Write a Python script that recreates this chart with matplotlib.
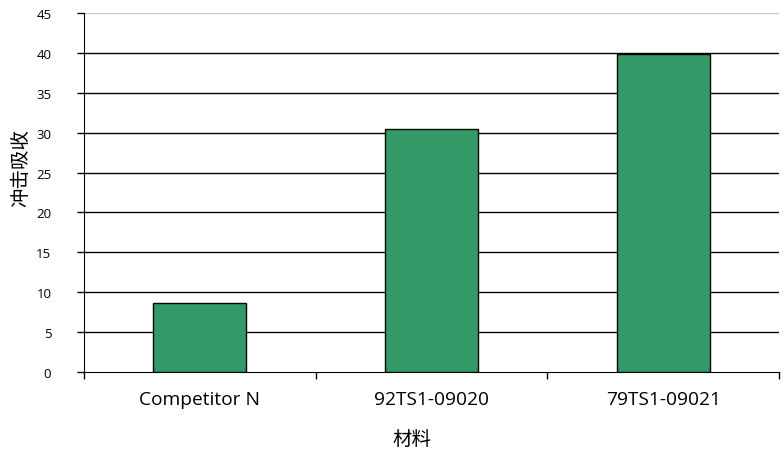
import matplotlib.pyplot as plt

plt.rcParams['font.family'] = ['Open Sans', 'Noto Sans CJK SC', 'DejaVu Sans']

materials = ['Competitor N', '92TS1-09020', '79TS1-09021']
absorption = [8.7, 30.4, 39.8]
y_ticks = list(range(0, 50, 5))

fig = plt.figure(figsize=(7.84, 4.56), dpi=100)
ax = fig.add_axes([84 / 784, 1 - 373 / 456, 695 / 784, 359 / 456])

x = range(len(materials))
ax.bar(x, absorption, width=0.4, color='#339966', edgecolor='black', linewidth=1, zorder=3)

ax.set_xlim(-0.5, len(materials) - 0.5)
ax.set_ylim(0, 45)
ax.set_yticks(y_ticks)
ax.tick_params(axis='y', labelsize=9.5, length=5, width=1, pad=18.5)

# category ticks sit at the boundaries, labels in the middle
ax.set_xticks([i - 0.5 for i in range(len(materials) + 1)])
ax.set_xticklabels([])
ax.set_xticks(list(x), minor=True)
ax.set_xticklabels(materials, minor=True, fontsize=13.8)
ax.tick_params(axis='x', which='major', length=5, width=1, direction='out')
ax.tick_params(axis='x', which='minor', length=0, pad=13)

for v in y_ticks[1:-1]:
    ax.axhline(v, color='black', linewidth=1, zorder=1)
ax.axhline(45, color='#c8c8c8', linewidth=1, zorder=1)

ax.spines['top'].set_visible(False)
ax.spines['right'].set_visible(False)

ax.set_ylabel('冲击吸收', fontsize=14)
ax.yaxis.set_label_coords(-0.078, 0.571)
ax.set_xlabel('材料', fontsize=14)
ax.xaxis.set_label_coords(0.472, -0.162)

fig.savefig('out.png', dpi=100)
